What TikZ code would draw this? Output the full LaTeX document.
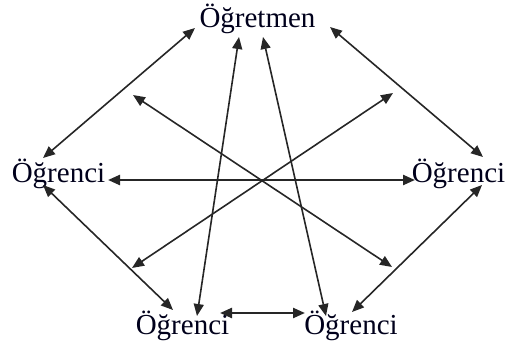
\documentclass[tikz,border=0pt]{standalone}
\usepackage{fontspec}
\setmainfont{Liberation Serif}
\usetikzlibrary{arrows.meta}
\begin{document}
\begin{tikzpicture}[x=1pt,y=1pt,
  lbl/.style={anchor=base,inner sep=0pt,font=\fontsize{29}{30}\selectfont,text=black!85!blue!70!black},
  con/.style={{Triangle[length=12pt,width=10pt]}-{Triangle[length=12pt,width=10pt]},line width=1.6pt,draw=black!85},
  conthick/.style={con,line width=2.3pt}]
\useasboundingbox (0,0) rectangle (508,345);
\node[lbl] (T)  at (257.5,317) {Öğretmen};
\node[lbl] (L)  at (58.5,162) {Öğrenci};
\node[lbl] (R)  at (458.5,162) {Öğrenci};
\node[lbl] (BL) at (182.5,10) {Öğrenci};
\node[lbl] (BR) at (351,10) {Öğrenci};
\coordinate (d1a) at (133,250);
\coordinate (d1b) at (392,78);
\coordinate (d2a) at (132,77);
\coordinate (d2b) at (393,252);
% outer hexagon
\draw[con] ([shift={(-62.5,0)}]T.base) -- ([shift={(-15.5,25)}]L.base);
\draw[con] ([shift={(72.5,1)}]T.base) -- ([shift={(24.5,26)}]R.base);
\draw[con] ([shift={(-15.5,-2)}]L.base) -- ([shift={(-9.5,25)}]BL.base);
\draw[con] ([shift={(23.5,-2)}]R.base) -- ([shift={(1,23)}]BR.base);
\draw[conthick] ([shift={(37.5,22)}]BL.base) -- ([shift={(-46,22)}]BR.base);
\draw[conthick] ([shift={(49.5,3)}]L.base) -- ([shift={(-43.5,3)}]R.base);
% teacher to bottom students
\draw[con] ([shift={(-18.5,-9)}]T.base) -- ([shift={(14.5,19)}]BL.base);
\draw[con] ([shift={(5.5,-9)}]T.base) -- ([shift={(-25,19)}]BR.base);
% diagonals
\draw[con] (d1a) -- (d1b);
\draw[con] (d2a) -- (d2b);
\end{tikzpicture}
\end{document}
